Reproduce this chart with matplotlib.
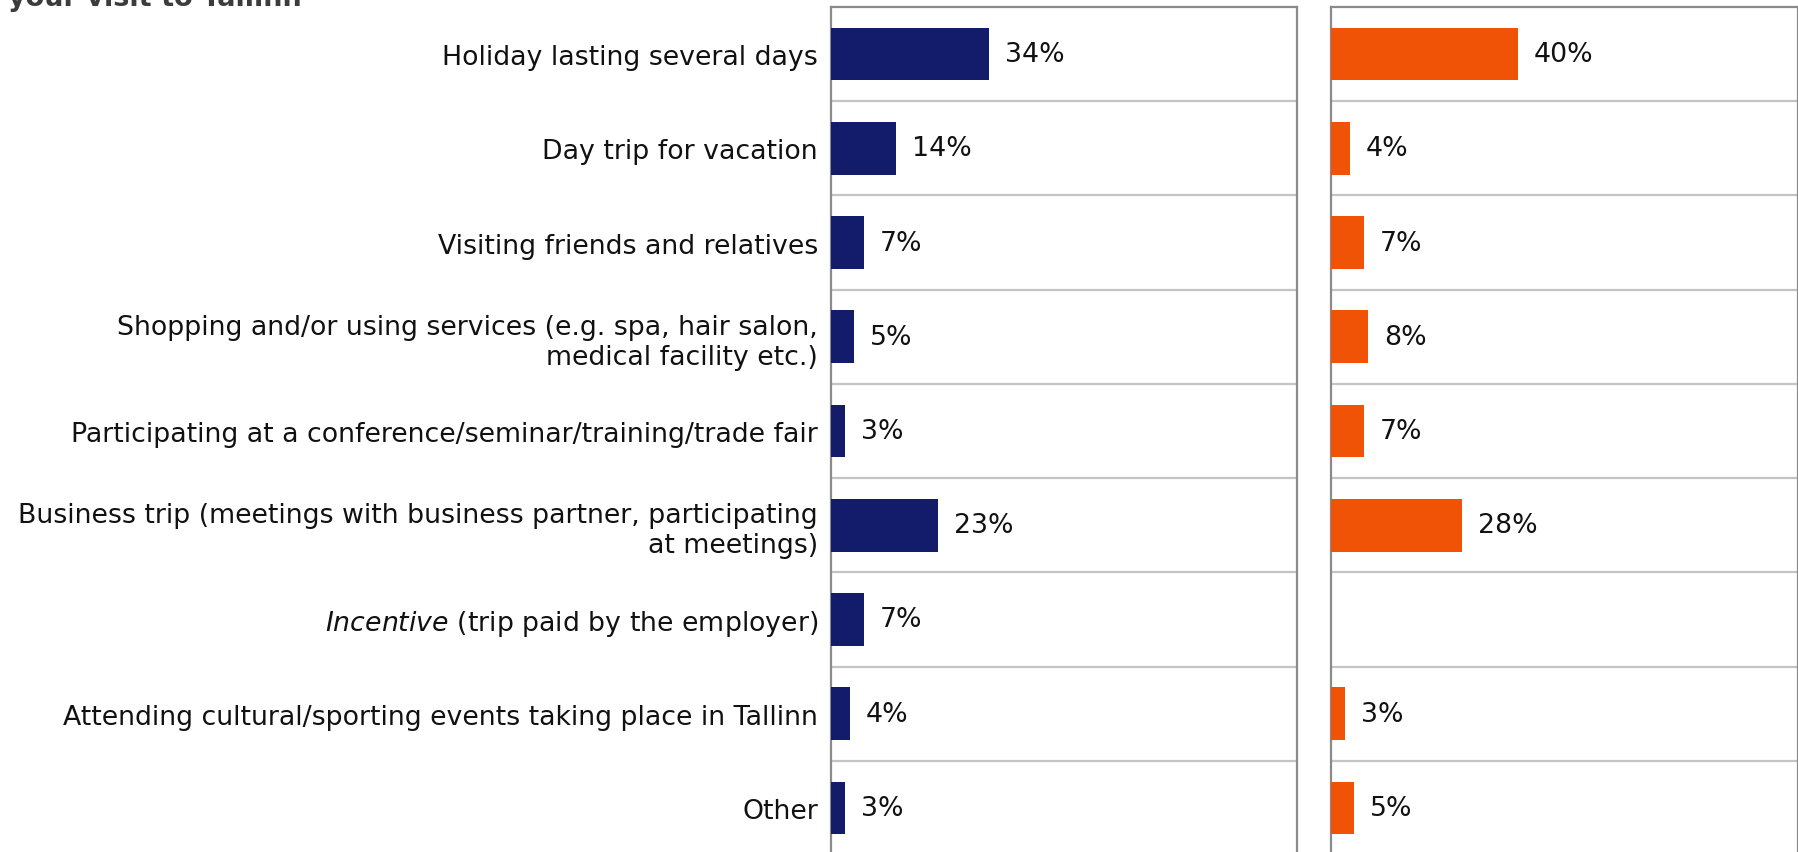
import matplotlib
matplotlib.use("Agg")
import matplotlib.pyplot as plt
import numpy as np

categories = [
    "Holiday lasting several days",
    "Day trip for vacation",
    "Visiting friends and relatives",
    "Shopping and/or using services (e.g. spa, hair salon,\nmedical facility etc.)",
    "Participating at a conference/seminar/training/trade fair",
    "Business trip (meetings with business partner, participating\nat meetings)",
    r"$\mathit{Incentive}$ (trip paid by the employer)",
    "Attending cultural/sporting events taking place in Tallinn",
    "Other",
]
series_left = [34, 14, 7, 5, 3, 23, 7, 4, 3]
series_right = [40, 4, 7, 8, 7, 28, None, 3, 5]

NAVY = "#131b6b"
ORANGE = "#f05305"
BORDER = "#8a8a8a"
SEP = "#c4c4c4"
FS = 19.3

W, H = 1799, 853
fig = plt.figure(figsize=(W / 100, H / 100), dpi=100)
fig.patch.set_facecolor("white")

top_px, bot_px = 8, 856
ax_h = (bot_px - top_px) / H
ax_b = 1 - bot_px / H

axL = fig.add_axes([831 / W, ax_b, 466 / W, ax_h])
axR = fig.add_axes([1331 / W, ax_b, 467 / W, ax_h])

y = np.arange(len(categories))


def draw_panel(ax, values, color):
    for yi, v in zip(y, values):
        if v is None:
            continue
        ax.barh(yi, v, height=0.56, color=color, zorder=3)
        ax.annotate(f"{v}%", xy=(v, yi), xytext=(11.5, 0),
                    textcoords="offset points", va="center", ha="left",
                    fontsize=FS, color="#111111")
    ax.set_xlim(0, 100)
    ax.set_ylim(len(categories) - 0.5, -0.5)
    for s in range(1, len(categories)):
        ax.axhline(s - 0.5, color=SEP, lw=1.6, zorder=1)
    for side in ("left", "right", "top", "bottom"):
        ax.spines[side].set_color(BORDER)
        ax.spines[side].set_linewidth(1.6)
    ax.set_xticks([])
    ax.tick_params(axis="y", length=0)


draw_panel(axL, series_left, NAVY)
draw_panel(axR, series_right, ORANGE)

axL.set_yticks(y)
axL.set_yticklabels(categories, fontsize=FS, color="#111111",
                    multialignment="right")
axL.tick_params(axis="y", pad=9.5)
axR.set_yticks([])

fig.text(8 / W, 1 - 6 / H, "your visit to Tallinn", fontsize=19.5,
         fontweight="bold", color="#3c3c3c", va="baseline", ha="left")

fig.savefig("out.png", dpi=100, facecolor="white")
